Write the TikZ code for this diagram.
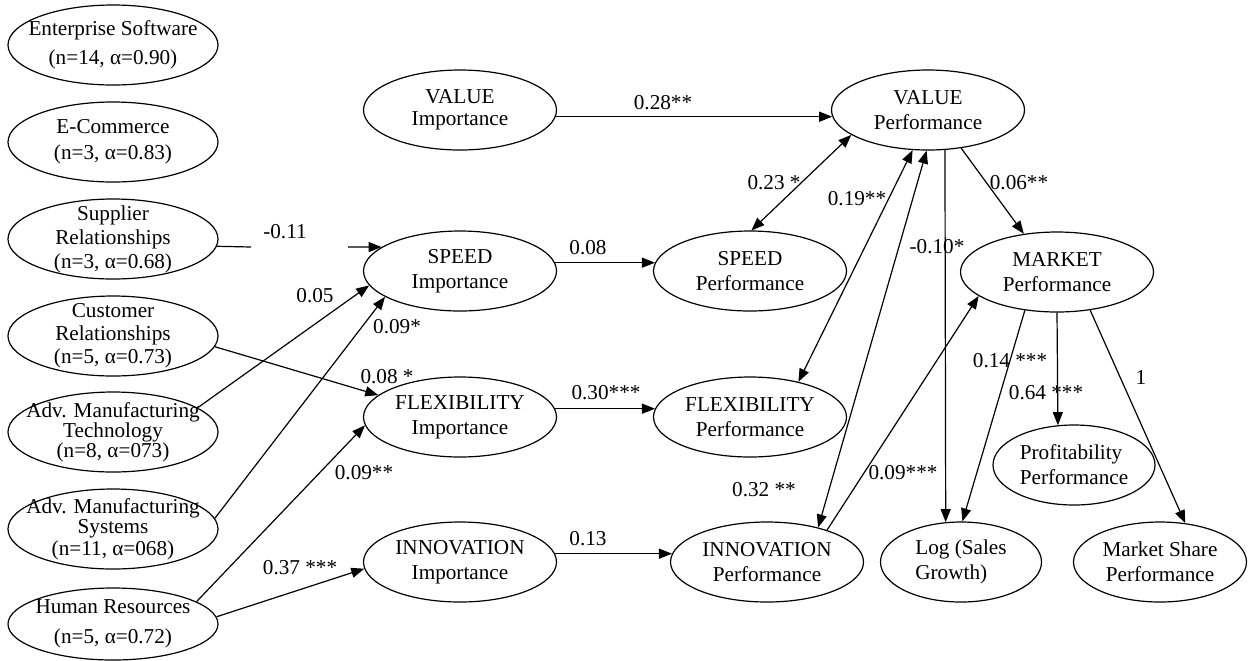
\documentclass[tikz,border=0pt]{standalone}
\usepackage{fontspec}
\setmainfont{Liberation Serif}
\usetikzlibrary{arrows.meta, shapes.geometric, positioning}

\begin{document}
\begin{tikzpicture}[
        x=0.5pt, y=-0.5pt,
        >={Triangle[length=6.5pt,width=5pt]},
        latent/.style={ellipse, draw, line width=0.6pt, inner xsep=-20pt, inner ysep=-12pt,
            minimum width=96.5pt, minimum height=40pt, align=center,
            font=\fontsize{10.6}{12.5}\selectfont},
        wide/.style={minimum width=105pt},
        lsk/.style={font=\fontsize{10.6}{#1}\selectfont},
        link/.style={line width=0.6pt},
        coef/.style={inner sep=0pt, font=\fontsize{10.6}{12}\selectfont}
    ]
        \useasboundingbox (0,0) rectangle (1252,660);

        % constructs
        \node[latent, wide, lsk=14.5pt] (ent) at (113,45) {Enterprise Software\\(n=14, α=0.90)};
        \node[latent, wide, lsk=13pt] (ecom) at (113,142) {E-Commerce\\(n=3, α=0.83)};
        \node[latent, wide, lsk=12pt] (supl) at (113,239) {Supplier\\Relationships\\(n=3, α=0.68)};
        \node[latent, wide, lsk=11.5pt] (cust) at (113,336) {Customer\\Relationships\\(n=5, α=0.73)};
        \node[latent, wide, lsk=10pt] (amt) at (113,432) {Adv. Manufacturing\\Technology\\(n=8, α=073)};
        \node[latent, wide, lsk=9pt] (ams) at (113,529) {Adv. Manufacturing\\Systems\\(n=11, α=068)};
        \node[latent, wide, lsk=15pt, minimum height=36pt] (hr) at (113,624) {Human Resources\\(n=5, α=0.72)};

        \node[latent, lsk=11pt] (valI) at (460,110) {VALUE\\Importance};
        \node[latent] (spdI) at (460,271) {SPEED\\Importance};
        \node[latent] (flxI) at (460,417) {FLEXIBILITY\\Importance};
        \node[latent] (innI) at (460,562) {INNOVATION\\Importance};

        \node[latent] (valP) at (928,110) {VALUE\\Performance};
        \node[latent] (spdP) at (750,271) {SPEED\\Performance};
        \node[latent] (flxP) at (750,417) {FLEXIBILITY\\Performance};
        \node[latent] (innP) at (767,562) {INNOVATION\\Performance};

        \node[latent] (mkt) at (1057,272) {MARKET\\Performance};
        \node[latent, minimum width=81pt, align=left] (prof) at (1074,465) {Profitability\\Performance};
        \node[latent, minimum width=80.5pt, align=left] (logs) at (961,562) {Log (Sales\\Growth)};
        \node[latent, minimum width=86.5pt] (mshr) at (1160,562) {Market Share\\Performance};

        % paths
        \coordinate (gapA) at (251,247);
        \coordinate (gapB) at (348,247);
        \draw[link] (supl.-4) -- (gapA);
        \draw[link,->] (gapB) -- (spdI.163);
        \draw[link,->] (amt.16) -- (spdI.189);
        \draw[link,->] (ams.6) -- (spdI.199);
        \draw[link,->] (cust.-6) -- (flxI.165);
        \draw[link,->] (hr.15) -- (flxI.185);
        \draw[link,->] (hr.4) -- (innI.184);

        \draw[link,->] (valI.-4) -- (valP.184);
        \draw[link,->] (spdI.5) -- (spdP.175);
        \draw[link,->] (flxI.5) -- (flxP.175);
        \draw[link,->] (innI.5) -- (innP.175);

        \draw[link,<->] (valP.198) -- (spdP.88);
        \draw[link,<->] (valP.249) -- (flxP.36);
        \draw[link,<->] (valP.268) -- (innP.34);
        \draw[link,->] (innP.28) -- (mkt.197);
        \draw[link,->] (valP.293) -- (logs.111);
        \draw[link,->] (valP.311) -- (mkt.131);
        \draw[link,->] (mkt.230) -- (logs.88);
        \draw[link,->] (mkt.south) -- (prof.112);
        \draw[link,->] (mkt.311) -- (mshr.57);

        % coefficients
        \node[coef] (w1) at (285,232) {-0.11};
        \node[coef] (w2) at (315,296) {0.05};
        \node[coef] (w3) at (397,327) {0.09*};
        \node[coef] (w4) at (387,377) {0.08 *};
        \node[coef] (w5) at (364,473) {0.09**};
        \node[coef] (w6) at (300,568) {0.37 ***};
        \node[coef] (w7) at (663,103) {0.28**};
        \node[coef] (w8) at (588,248) {0.08};
        \node[coef] (w9) at (606,393) {0.30***};
        \node[coef] (w10) at (588,539) {0.13};
        \node[coef] (w11) at (774,183) {0.23 *};
        \node[coef] (w12) at (857,199) {0.19**};
        \node[coef] (w13) at (937,247) {-0.10*};
        \node[coef] (w14) at (1019,183) {0.06**};
        \node[coef] (w15) at (764,490) {0.32 **};
        \node[coef] (w16) at (903,473) {0.09***};
        \node[coef] (w17) at (1010,361) {0.14 ***};
        \node[coef] (w18) at (1046,393) {0.64 ***};
        \node[coef] (w19) at (1141,377) {1};
    \end{tikzpicture}
\end{document}
